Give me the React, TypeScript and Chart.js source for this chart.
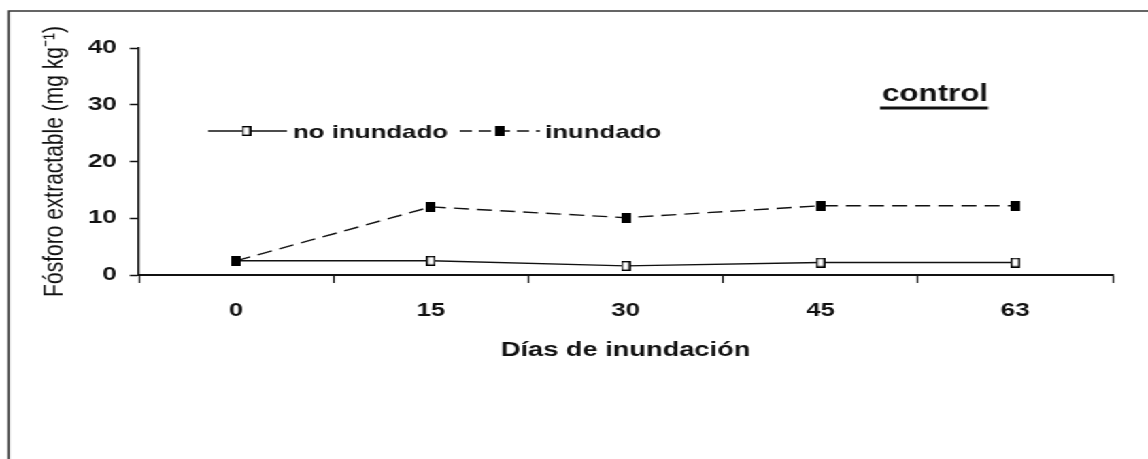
import React, { useEffect, useRef } from "react";
import { Chart, registerables } from "chart.js";

Chart.register(...registerables);

// ---- data ----
const days = ["0", "15", "30", "45", "63"];
const noInundado = [2.5, 2.5, 1.6, 2.2, 2.2];
const inundado = [2.5, 12.0, 10.1, 12.2, 12.2];
const yMin = 0;
const yMax = 40;
const yStep = 10;
const seriesNames = ["no inundado", "inundado"];
const yTitle = "Fósforo extractable (mg kg⁻¹)";
const xTitle = "Días de inundación";
const panelLabel = "control";

// ---- layout (internal canvas is rendered narrower and stretched horizontally) ----
const W = 844;
const H = 459;
const S = 1148 / W;
const FONT = "'Liberation Sans', Arial, Helvetica, sans-serif";
const INK = "#111";

function makeMarker(filled: boolean): HTMLCanvasElement {
  const c = document.createElement("canvas");
  c.width = 7;
  c.height = 10;
  const ctx = c.getContext("2d")!;
  if (filled) {
    ctx.fillStyle = "#000";
    ctx.fillRect(0, 0, 7, 10);
  } else {
    ctx.fillStyle = "#fff";
    ctx.fillRect(0, 0, 7, 10);
    ctx.strokeStyle = "#000";
    ctx.lineWidth = 1.4;
    ctx.strokeRect(0.7, 0.7, 5.6, 8.6);
  }
  return c;
}

export default function App() {
  const ref = useRef<HTMLCanvasElement | null>(null);

  useEffect(() => {
    if (!ref.current) return;
    const hollow = makeMarker(false);
    const filled = makeMarker(true);

    const decor = {
      id: "decor",
      afterDraw(chart: any) {
        const ctx: CanvasRenderingContext2D = chart.ctx;
        ctx.save();
        // frame (top & left)
        ctx.strokeStyle = "#333";
        ctx.lineWidth = 1.5;
        ctx.setLineDash([]);
        ctx.beginPath();
        ctx.moveTo(6.4, H);
        ctx.lineTo(6.4, 11);
        ctx.lineTo(W, 11);
        ctx.stroke();

        // legend
        const ly = 131;
        ctx.strokeStyle = INK;
        ctx.lineWidth = 1.4;
        ctx.beginPath();
        ctx.moveTo(153, ly);
        ctx.lineTo(211, ly);
        ctx.stroke();
        ctx.drawImage(hollow, 181 - 3.5, ly - 5);

        ctx.setLineDash([9, 5]);
        ctx.beginPath();
        ctx.moveTo(338, ly);
        ctx.lineTo(397, ly);
        ctx.stroke();
        ctx.setLineDash([]);
        ctx.drawImage(filled, 367 - 3.5, ly - 5);

        ctx.fillStyle = INK;
        ctx.font = `bold 19px ${FONT}`;
        ctx.textBaseline = "alphabetic";
        ctx.textAlign = "left";
        ctx.fillText(seriesNames[0], 215.4, 138);
        ctx.fillText(seriesNames[1], 400.7, 138);

        // panel label
        ctx.font = `bold 23px ${FONT}`;
        ctx.fillText(panelLabel, 648.5, 101);
        const w = ctx.measureText(panelLabel).width;
        ctx.fillRect(647, 106.5, w + 1.5, 3);
        ctx.restore();
      },
    };

    const chart = new Chart(ref.current, {
      type: "line",
      data: {
        labels: days,
        datasets: [
          {
            label: seriesNames[0],
            data: noInundado,
            borderColor: INK,
            borderWidth: 1.4,
            pointStyle: hollow as any,
            pointRadius: 5,
            tension: 0,
            fill: false,
            order: 1,
          },
          {
            label: seriesNames[1],
            data: inundado,
            borderColor: INK,
            borderWidth: 1.4,
            borderDash: [11, 6],
            pointStyle: filled as any,
            pointRadius: 5,
            tension: 0,
            fill: false,
            order: 0,
          },
        ],
      },
      options: {
        responsive: false,
        animation: false,
        devicePixelRatio: 1,
        layout: { padding: { left: 0, top: 48, right: W - 818, bottom: 0 } },
        plugins: { legend: { display: false }, tooltip: { enabled: false } },
        scales: {
          x: {
            type: "category",
            offset: true,
            grid: {
              offset: true,
              drawOnChartArea: false,
              drawTicks: true,
              tickLength: 8,
              tickColor: INK,
              tickWidth: 1.2,
            },
            border: { display: true, color: INK, width: 2 },
            ticks: {
              color: INK,
              font: { family: FONT, size: 19, weight: "bold" },
              padding: 16,
              maxRotation: 0,
            },
            title: {
              display: true,
              text: xTitle,
              color: INK,
              font: { family: FONT, size: 20, weight: "bold" },
              padding: { top: 0, bottom: 97 },
            },
            afterFit: (s: any) => {
              s.height = H - 275;
            },
          },
          y: {
            min: yMin,
            max: yMax,
            ticks: {
              stepSize: yStep,
              color: INK,
              font: { family: FONT, size: 19, weight: "bold" },
              padding: 9.6,
            },
            grid: {
              drawOnChartArea: false,
              drawTicks: true,
              tickLength: 6.6,
              tickColor: INK,
              tickWidth: 1.5,
            },
            border: { display: true, color: INK, width: 1.5 },
            title: {
              display: true,
              text: yTitle,
              color: INK,
              font: { family: FONT, size: 21, weight: "normal" },
              padding: { top: 28, bottom: 0 },
            },
            afterFit: (s: any) => {
              s.width = 102;
            },
          },
        },
      },
      plugins: [decor],
    });
    return () => chart.destroy();
  }, []);

  return (
    <div
      style={{
        position: "absolute",
        left: 0,
        top: 0,
        width: W,
        height: H,
        transform: `scaleX(${S})`,
        transformOrigin: "0 0",
        background: "#fff",
      }}
    >
      <canvas ref={ref} width={W} height={H} />
    </div>
  );
}
